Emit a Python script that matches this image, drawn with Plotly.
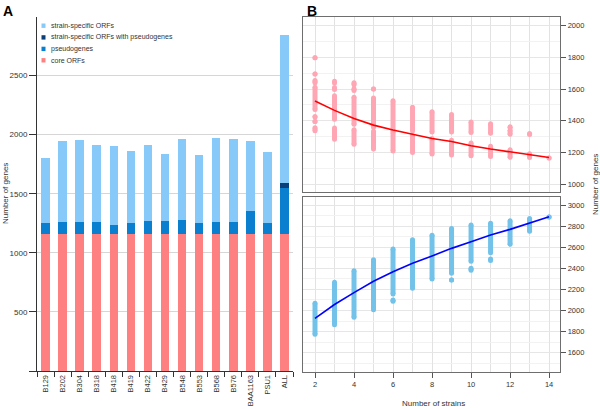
import plotly.graph_objects as go

FONT = "Liberation Sans, Arial, sans-serif"

# ---------------- Panel A data ----------------
strains = ["B129", "B202", "B304", "B318", "B418", "B419", "B422", "B429",
           "B548", "B553", "B568", "B576", "BAA1163", "PSU1", "ALL"]
core_orfs = [1163] * 15
pseudo_top = [1248, 1263, 1263, 1260, 1237, 1254, 1271, 1268,
              1277, 1248, 1263, 1263, 1350, 1251, 1548]
specific_with_pseudo = [0] * 14 + [42]
total_genes = [1805, 1946, 1954, 1908, 1900, 1865, 1911, 1837,
               1965, 1826, 1970, 1962, 1947, 1853, 2845]

pseudogenes = [p - c for p, c in zip(pseudo_top, core_orfs)]
specific_orfs = [t - p - s for t, p, s in zip(total_genes, pseudo_top, specific_with_pseudo)]

legend_labels = ["strain-specific ORFs", "strain-specific ORFs with pseudogenes",
                 "pseudogenes", "core ORFs"]
legend_colors = ["#87CAF9", "#0A3F7A", "#0A7FCF", "#FF8080"]

# ---------------- Panel B data ----------------
# core genome: vertical stripes of points (strain count, lower value, upper value)
core_n =  [2, 2, 2, 2, 2, 2, 2,
           3, 3, 3, 3,
           4, 4, 4, 4,
           5, 5, 5,
           6, 6,
           7, 7,
           8, 8,
           9, 9, 9,
           10, 10,
           11, 11,
           12, 12, 12,
           13, 13,
           14]
core_lo = [1798, 1695, 1640, 1472, 1425, 1395, 1337,
           1638, 1598, 1410, 1284,
           1628, 1592, 1378, 1252,
           1600, 1360, 1222,
           1338, 1210,
           1336, 1200,
           1330, 1190,
           1428, 1330, 1184,
           1326, 1180,
           1322, 1175,
           1354, 1316, 1170,
           1314, 1168,
           1166]
core_hi = [1798, 1695, 1654, 1612, 1425, 1395, 1356,
           1650, 1611, 1558, 1355,
           1640, 1603, 1549, 1344,
           1600, 1544, 1334,
           1526, 1326,
           1486, 1308,
           1458, 1288,
           1440, 1414, 1278,
           1392, 1260,
           1382, 1240,
           1362, 1340, 1218,
           1320, 1192,
           1166]
n_strains = [2, 3, 4, 5, 6, 7, 8, 9, 10, 11, 12, 13, 14]
core_mean = [1525, 1466, 1414, 1373, 1342, 1316, 1288, 1270, 1243, 1222, 1203, 1186, 1169]

# pan genome stripes
pan_n =  [2, 3, 4, 5, 6, 6, 7, 8, 9, 9, 10, 10, 11, 11, 12, 13, 14]
pan_lo = [1776, 1866, 1936, 2008, 2156, 2088, 2212, 2298, 2352, 2290, 2468, 2382, 2548, 2474, 2628, 2752, 2886]
pan_hi = [2068, 2268, 2376, 2480, 2582, 2100, 2670, 2714, 2778, 2290, 2810, 2400, 2828, 2488, 2850, 2872, 2886]
pan_mean = [1926, 2057, 2170, 2277, 2368, 2447, 2517, 2589, 2652, 2716, 2769, 2826, 2889]

core_tick_vals = [1000, 1200, 1400, 1600, 1800, 2000]
pan_tick_vals = [1600, 1800, 2000, 2200, 2400, 2600, 2800, 3000]
strain_tick_vals = [2, 4, 6, 8, 10, 12, 14]
left_tick_vals = [0, 500, 1000, 1500, 2000, 2500]
left_tick_text = ["", "500", "1000", "1500", "2000", "2500"]


def stripes(ns, los, his):
    xs, ys = [], []
    for n, lo, hi in zip(ns, los, his):
        xs += [n, n, None]
        ys += [lo, hi, None]
    return xs, ys


fig = go.Figure()

# stacked bars
bar_series = [
    ("core ORFs", core_orfs, legend_colors[3]),
    ("pseudogenes", pseudogenes, legend_colors[2]),
    ("strain-specific ORFs with pseudogenes", specific_with_pseudo, legend_colors[1]),
    ("strain-specific ORFs", specific_orfs, legend_colors[0]),
]
for name, vals, col in bar_series:
    fig.add_trace(go.Bar(x=strains, y=vals, name=name, marker_color=col,
                         marker_line_width=0, xaxis="x", yaxis="y", showlegend=False))

# core genome panel
cx, cy = stripes(core_n, core_lo, core_hi)
fig.add_trace(go.Scatter(x=cx, y=cy, mode="lines+markers", xaxis="x2", yaxis="y2",
                         line=dict(color="#FFA6B4", width=5),
                         marker=dict(color="#FFA6B4", size=5), showlegend=False))
fig.add_trace(go.Scatter(x=n_strains, y=core_mean, mode="lines", xaxis="x2", yaxis="y2",
                         line=dict(color="#FF0000", width=1.6), showlegend=False))

# pan genome panel
px_, py_ = stripes(pan_n, pan_lo, pan_hi)
fig.add_trace(go.Scatter(x=px_, y=py_, mode="lines+markers", xaxis="x3", yaxis="y3",
                         line=dict(color="#72C2E9", width=5),
                         marker=dict(color="#72C2E9", size=5), showlegend=False))
fig.add_trace(go.Scatter(x=n_strains, y=pan_mean, mode="lines", xaxis="x3", yaxis="y3",
                         line=dict(color="#0000FF", width=1.6), showlegend=False))

W, H = 600, 409


def px(x):
    return x / W


def py(y):
    return 1 - y / H


tickfont = dict(family=FONT, size=7.5, color="#333333")
box = dict(showline=True, mirror=True, linecolor="#6e6e6e", linewidth=1.3, zeroline=False)

fig.update_layout(
    width=W, height=H, margin=dict(l=0, r=0, t=0, b=0),
    paper_bgcolor="white", plot_bgcolor="white",
    barmode="stack", bargap=0.5, showlegend=False,
    font=dict(family=FONT, color="#333333"),
    xaxis=dict(domain=[px(37), px(293)], anchor="y", type="category",
               range=[-0.5, 14.5], tickangle=-90, tickson="boundaries",
               ticks="outside", ticklen=5, tickcolor="#333333",
               showline=True, linecolor="#333333", linewidth=1,
               showgrid=False, tickfont=tickfont),
    yaxis=dict(domain=[py(371), py(17)], anchor="x", range=[0, 2995],
               tickvals=left_tick_vals, ticktext=left_tick_text,
               ticks="outside", ticklen=7, tickcolor="#333333",
               showline=True, linecolor="#333333", linewidth=1,
               showgrid=True, gridcolor="#d6d6d6", zeroline=False,
               tickfont=dict(family=FONT, size=8, color="#333333")),
    xaxis2=dict(domain=[px(303), px(560)], anchor="y2", range=[1.385, 14.56],
                tickvals=strain_tick_vals, ticks="", showticklabels=False,
                showgrid=True, gridcolor="#e2e2e2",
                minor=dict(dtick=1, tick0=0, showgrid=True, gridcolor="#e2e2e2"), **box),
    yaxis2=dict(domain=[py(192), py(17)], anchor="x2", range=[951, 2055], side="right",
                tickvals=core_tick_vals, ticks="outside", ticklen=5, tickcolor="#555555",
                showgrid=True, gridcolor="#e6e6e6",
                minor=dict(dtick=100, tick0=0, showgrid=True, gridcolor="#f2f2f2"),
                tickfont=tickfont, **box),
    xaxis3=dict(domain=[px(303), px(560)], anchor="y3", range=[1.385, 14.56],
                tickvals=strain_tick_vals, ticks="outside", ticklen=5, tickcolor="#555555",
                showgrid=True, gridcolor="#e2e2e2",
                minor=dict(dtick=1, tick0=0, showgrid=True, gridcolor="#e2e2e2"),
                tickfont=tickfont, **box),
    yaxis3=dict(domain=[py(372), py(197)], anchor="x3", range=[1417, 3076], side="right",
                tickvals=pan_tick_vals, ticks="outside", ticklen=5, tickcolor="#555555",
                showgrid=True, gridcolor="#e6e6e6",
                minor=dict(dtick=100, tick0=0, showgrid=True, gridcolor="#f2f2f2"),
                tickfont=tickfont, **box),
)

ann = []
ann.append(dict(text="<b>A</b>", x=px(1), y=py(11), xref="paper", yref="paper",
                xanchor="left", yanchor="middle", showarrow=False,
                font=dict(family=FONT, size=14, color="black")))
ann.append(dict(text="<b>B</b>", x=px(305), y=py(11), xref="paper", yref="paper",
                xanchor="left", yanchor="middle", showarrow=False,
                font=dict(family=FONT, size=14, color="black")))
ann.append(dict(text="Number of genes", x=px(5), y=py(194), xref="paper", yref="paper",
                textangle=-90, xanchor="center", yanchor="middle", showarrow=False,
                font=dict(family=FONT, size=8, color="#333333")))
ann.append(dict(text="Number of genes", x=px(596), y=py(185), xref="paper", yref="paper",
                textangle=-90, xanchor="center", yanchor="middle", showarrow=False,
                font=dict(family=FONT, size=8, color="#333333")))
ann.append(dict(text="Number of strains", x=px(433), y=py(403), xref="paper", yref="paper",
                xanchor="center", yanchor="middle", showarrow=False,
                font=dict(family=FONT, size=8, color="#333333")))

shapes = []
row_y = [25.7, 37.4, 48.9, 60.3]
for lab, col, yc in zip(legend_labels, legend_colors, row_y):
    shapes.append(dict(type="rect", xref="paper", yref="paper",
                       x0=px(41.5), x1=px(45.5), y0=py(yc + 2.2), y1=py(yc - 2.2),
                       fillcolor=col, line=dict(width=0)))
    ann.append(dict(text=lab, x=px(49), y=py(yc), xref="paper", yref="paper",
                    xanchor="left", yanchor="middle", showarrow=False,
                    font=dict(family=FONT, size=7, color="#333333")))

fig.update_layout(annotations=ann, shapes=shapes)
fig.write_html("out.html", config={"displayModeBar": False},
               post_script="document.body.style.margin='0';document.body.style.overflow='hidden';")
